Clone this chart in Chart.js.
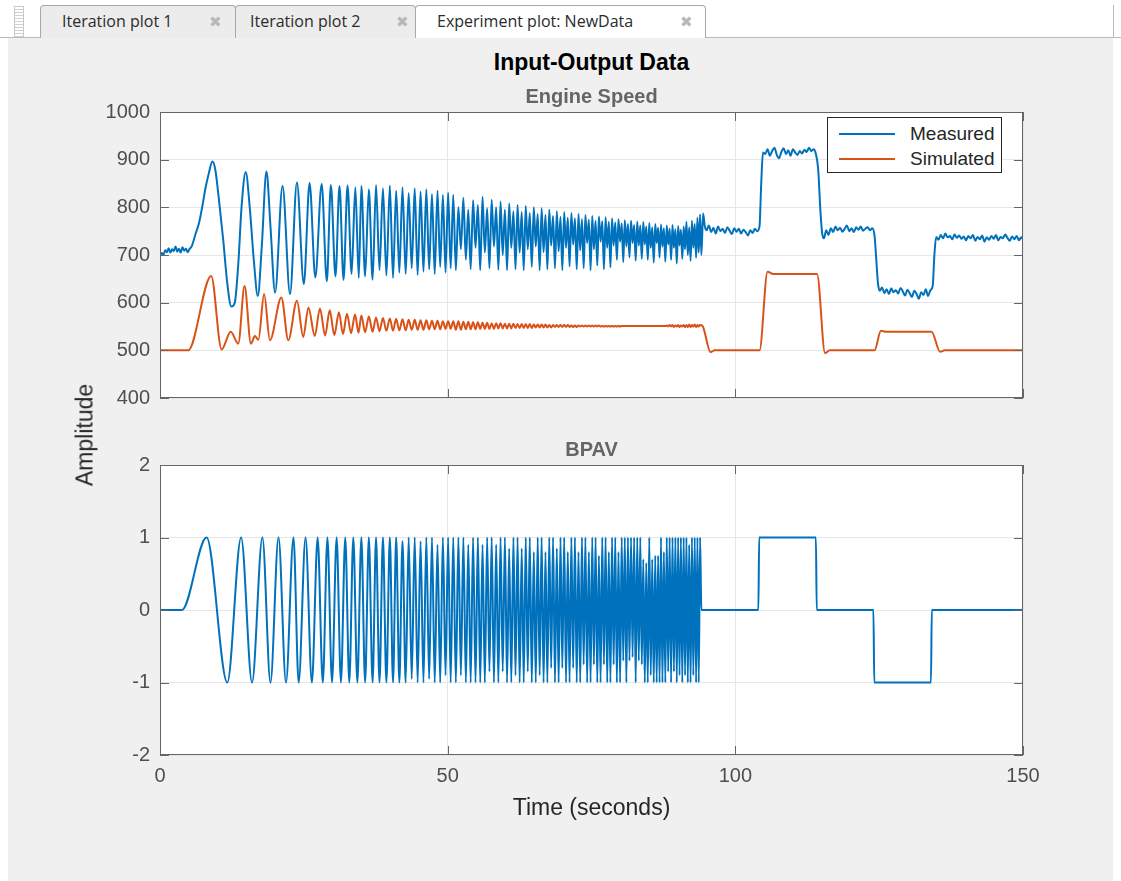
<!DOCTYPE html>
<html>
<head>
<meta charset="utf-8">
<title>Input-Output Data</title>
<script src="https://cdn.jsdelivr.net/npm/chart.js@4.4.1/dist/chart.umd.min.js"></script>
<style>
  html, body { margin: 0; padding: 0; background: #fff; }
  body { position: relative; width: 1121px; height: 881px; overflow: hidden; font-family: "Liberation Sans", Arial, sans-serif; }
  #tabbar { position: absolute; left: 0; top: 0; width: 1121px; height: 38px; background: #fff; border-bottom: 1px solid #b9b9b9; box-sizing: border-box; }
  .grip { position: absolute; left: 14px; top: 6px; width: 10px; height: 31px; border: 1px solid #c8c8c8; border-bottom: none; box-sizing: border-box; background: repeating-linear-gradient(#fff 0 2px, #d0d0d0 2px 3px); }
  .tab { position: absolute; top: 5px; height: 33px; box-sizing: border-box; border: 1px solid #a9a9a9; border-bottom: none; border-radius: 4px 4px 0 0; background: #ececec; font-family: "Open Sans", "DejaVu Sans", sans-serif; font-size: 16px; color: #2b2b2b; line-height: 30px; padding-left: 21px; white-space: nowrap; }
  .tab.active { background: #fff; height: 34px; }
  .tab .close { position: absolute; top: 0; font-size: 15px; color: #b8b8b8; }
  #tabend { position: absolute; left: 1113px; top: 5px; width: 1px; height: 33px; background: #b9b9b9; }
  #panel { position: absolute; left: 8px; top: 38px; width: 1105px; height: 843px; background: #f0f0f0; }
  canvas { position: absolute; left: 0; }
  .ttl { position: absolute; left: 160px; width: 863px; text-align: center; font-weight: bold; white-space: nowrap; }
  #figTitle { top: 48px; font-size: 23px; line-height: 28px; color: #000; }
  #speedTitle { top: 84px; font-size: 20px; line-height: 24px; color: #656565; }
  #bpavTitle { top: 437px; font-size: 20px; line-height: 24px; color: #656565; }
  #ylabel { position: absolute; left: 85px; top: 435px; transform: translate(-50%, -50%) rotate(-90deg); font-size: 23px; color: #262626; white-space: nowrap; }
  #legend { position: absolute; left: 827px; top: 117px; width: 175px; height: 56px; box-sizing: border-box; border: 1px solid #262626; background: #fff; }
  #legend .item { position: absolute; left: 0; width: 100%; height: 25px; font-size: 19px; line-height: 25px; color: #262626; }
  #legend .swatch { position: absolute; left: 11px; top: 12px; width: 56px; border-top: 2px solid; }
  #legend .lbl { position: absolute; left: 82px; }
</style>
</head>
<body>
<div id="tabbar">
  <div class="grip"></div>
  <div class="tab" style="left:40px;width:196px">Iteration plot 1<span class="close" style="left:168px">&#10006;</span></div>
  <div class="tab" style="left:235px;width:181px;padding-left:14px">Iteration plot 2<span class="close" style="left:160px">&#10006;</span></div>
  <div class="tab active" style="left:415px;width:291px">Experiment plot: NewData<span class="close" style="left:264px">&#10006;</span></div>
  <div id="tabend"></div>
</div>
<div id="panel"></div>
<canvas id="speedChart" width="1121" height="340" style="top:80px"></canvas>
<canvas id="bpavChart" width="1121" height="400" style="top:440px"></canvas>
<div class="ttl" id="figTitle">Input-Output Data</div>
<div class="ttl" id="speedTitle">Engine Speed</div>
<div class="ttl" id="bpavTitle">BPAV</div>
<div id="ylabel">Amplitude</div>
<div id="legend"></div>
<script>
// axis ticks
var timeTicks = [0, 50, 100, 150];
var speedTicks = [400, 500, 600, 700, 800, 900, 1000];
var bpavTicks = [-2, -1, 0, 1, 2];

// BPAV input: slow start of the sweep (s, value)
var bpavEarlyT = [0, 3.8, 8.1, 11.7, 14.1, 16.0, 17.8, 19.2, 20.6, 21.9, 23.2, 24.1, 25.3, 26.4,
  27.4, 28.3, 29.1, 29.9, 30.7, 31.45, 32.2, 32.9, 33.6, 34.3];
var bpavEarlyY = [0, 0, 1, -1, 1, -1, 1, -1, 1, -1, 1, -1, 1, -1,
  1, -1, 1, -1, 1, -1, 1, -1, 1, -1];

// peak / trough times of the fast part of the sweep (shared by the three traces)
var sweepT = [
  35.0, 35.65, 36.3, 36.95, 37.55, 38.15, 38.75, 39.35, 39.95, 40.5,
  41.05, 41.6, 42.15, 42.7, 43.22, 43.75, 44.27, 44.78, 45.29, 45.79,
  46.29, 46.78, 47.27, 47.75, 48.23, 48.7, 49.17, 49.63, 50.08, 50.52,
  50.97, 51.42, 51.86, 52.30, 52.73, 53.16, 53.58, 54.00, 54.42, 54.84,
  55.25, 55.66, 56.06, 56.46, 56.86, 57.26, 57.65, 58.04, 58.43, 58.81,
  59.19, 59.57, 59.95, 60.32, 60.69, 61.06, 61.43, 61.79, 62.15, 62.51,
  62.87, 63.22, 63.57, 63.92, 64.27, 64.62, 64.97, 65.31, 65.65, 65.99,
  66.33, 66.67, 67.00, 67.33, 67.66, 67.99, 68.32, 68.65, 68.97, 69.29,
  69.61, 69.93, 70.25, 70.57, 70.88, 71.19, 71.50, 71.81, 72.12, 72.43,
  72.74, 73.04, 73.34, 73.64, 73.94, 74.24, 74.54, 74.84, 75.13, 75.42,
  75.71, 76.00, 76.29, 76.58, 76.87, 77.16, 77.45, 77.73, 78.01, 78.29,
  78.57, 78.85, 79.13, 79.41, 79.69, 79.97, 80.25, 80.52, 80.79, 81.06,
  81.33, 81.60, 81.87, 82.14, 82.41, 82.68, 82.95, 83.22, 83.48, 83.74,
  84.00, 84.26, 84.52, 84.78, 85.04, 85.30, 85.56, 85.82, 86.08, 86.33,
  86.58, 86.83, 87.08, 87.33, 87.58, 87.83, 88.08, 88.33, 88.58, 88.83,
  89.08, 89.33, 89.58, 89.82, 90.06, 90.30, 90.54, 90.78, 91.02, 91.26,
  91.50, 91.74, 91.98, 92.22, 92.46, 92.70, 92.94, 93.18, 93.41, 93.64,
  93.87
];

var bpavSweep = [
  1, -1, 1, -1, 1, -1, 1, -1, 1, -1,
  1, -1, 0.95, -1, 1, -0.95, 1, -1, 0.95, -1,
  1, -0.95, 1, -1, 0.9, -1, 1, -0.9, 1, -1,
  1, -1, 1, -0.9, 1, -1, 0.9, -1, 1, -1,
  1, -1, 0.9, -1, 1, -0.85, 1, -1, 0.9, -1,
  1, -0.85, 1, -1, 0.85, -1, 1, -0.9, 1, -1,
  0.85, -1, 1, -0.85, 1, -1, 0.8, -1, 1, -0.9,
  1, -1, 0.8, -1, 1, -0.8, 1, -1, 0.85, -1,
  1, -0.8, 1, -1, 0.8, -1, 1, -0.8, 1, -1,
  0.8, -1, 1, -0.75, 1, -1, 0.8, -1, 1, -0.75,
  1, -1, 0.75, -1, 1, -0.75, 1, -1, 0.8, -1,
  1, -0.75, 1, -1, 0.8, -1, 1, -0.7, 1, -1,
  1, -0.7, 1, -0.65, 1, -1, 1, -0.7, 1, -0.75,
  0.7, -1, 0.65, -1, 1, -0.9, 0.7, -1, 0.75, -1,
  0.75, -1, 1, -1, 0.8, -1, 1, -0.85, 1, -1,
  1, -0.85, 1, -1, 1, -0.9, 1, -1, 1, -0.9,
  1, -1, 0.9, -1, 1, -0.9, 1, -1, 1, -1,
  1
];

// BPAV steps after the sweep
var bpavTailT = [94.1, 104.0, 104.15, 114.0, 114.15, 124.0, 124.15, 134.0, 134.15, 150];
var bpavTailY = [0, 0, 1, 1, 0, 0, -1, -1, 0, 0];

// engine speed, measured
var measEarlyT = [0, 0.3, 0.6, 0.9, 1.2, 1.5, 1.8, 2.1, 2.4, 2.7, 3.0, 3.3, 3.6, 3.9, 4.2, 4.5, 4.8, 5.1, 5.5,
  6.2, 6.8, 7.4, 7.9, 8.5, 9.1, 9.6, 10.3, 11.0, 11.7, 12.4, 13.0, 13.6, 14.2, 14.9, 15.6, 16.3, 17.0,
  17.7, 18.5, 19.2, 20.0, 21.3, 22.6, 23.8, 25.0, 26.0, 27.0, 28.1, 29.0, 29.7, 30.5, 31.2, 31.9,
  32.6, 33.3, 33.95, 34.55];
var measEarlyY = [698, 704, 700, 710, 706, 714, 705, 712, 708, 718, 707, 713, 705, 716, 709, 713, 706, 712, 718,
  745, 768, 805, 840, 872, 896, 880, 810, 730, 640, 592, 600, 680, 805, 874, 800, 690, 614,
  720, 875, 760, 621, 845, 618, 852, 639, 851, 653, 849, 645, 847, 655, 845, 648,
  846, 660, 842, 652];

var measSweep = [
  845, 655, 838, 648, 847, 668, 840, 657, 846, 652,
  835, 663, 842, 660, 830, 672, 840, 658, 833, 665,
  838, 670, 828, 660, 835, 675, 826, 663, 831, 672,
  826, 668, 800, 712, 820, 690, 795, 670, 815, 715,
  805, 668, 822, 705, 798, 672, 816, 718, 800, 669,
  812, 700, 795, 668, 808, 715, 792, 670, 805, 705,
  790, 668, 803, 712, 788, 675, 800, 718, 786, 668,
  798, 706, 784, 670, 795, 720, 782, 672, 792, 708,
  780, 668, 790, 715, 778, 676, 788, 722, 777, 670,
  786, 710, 775, 672, 784, 725, 774, 668, 782, 712,
  772, 678, 781, 728, 771, 670, 779, 715, 770, 674,
  777, 720, 768, 690, 775, 728, 766, 685, 773, 718,
  765, 695, 772, 725, 763, 688, 770, 720, 762, 692,
  769, 722, 760, 690, 767, 715, 758, 684, 765, 725,
  757, 695, 764, 718, 756, 686, 762, 722, 755, 690,
  763, 715, 754, 682, 761, 720, 753, 692, 760, 712,
  770, 700, 758, 688, 772, 715, 765, 694, 778, 705,
  785
];

var measTailT = [94.1, 94.4, 94.7, 95.0, 95.4, 95.8, 96.2, 96.6, 97.0, 97.4, 97.8, 98.2, 98.6, 99.0, 99.4, 99.8,
  100.2, 100.6, 101.0, 101.4, 101.8, 102.2, 102.6, 103.0, 103.4, 103.8, 104.2, 104.5, 104.8, 105.2, 105.6,
  106.0, 106.4, 106.8, 107.2, 107.6, 108.0, 108.4, 108.8, 109.2, 109.6, 110.0, 110.4, 110.8, 111.2, 111.6,
  112.0, 112.4, 112.8, 113.2, 113.6, 114.0, 114.4, 114.8, 115.1, 115.4, 115.8, 116.2, 116.6, 117.0, 117.4,
  117.8, 118.2, 118.6, 119.0, 119.4, 119.8, 120.2, 120.6, 121.0, 121.4, 121.8, 122.2, 122.6, 123.0, 123.4,
  123.8, 124.2, 124.5, 124.8, 125.1, 125.5, 125.9, 126.3, 126.7, 127.1, 127.5, 127.9, 128.3, 128.7, 129.1,
  129.5, 129.9, 130.3, 130.7, 131.1, 131.5, 131.9, 132.3, 132.7, 133.1, 133.5, 133.9, 134.3, 134.6, 134.9,
  135.3, 135.7, 136.1, 136.5, 136.9, 137.3, 137.7, 138.1, 138.5, 138.9, 139.3, 139.7, 140.1, 140.5, 140.9,
  141.3, 141.7, 142.1, 142.5, 142.9, 143.3, 143.7, 144.1, 144.5, 144.9, 145.3, 145.7, 146.1, 146.5, 146.9,
  147.3, 147.7, 148.1, 148.5, 148.9, 149.3, 149.7, 150];
var measTailY = [700, 787, 760, 752, 762, 748, 757, 745, 760, 750, 755, 746, 758, 751, 744, 756,
  749, 755, 745, 753, 748, 741, 752, 746, 755, 750, 760, 850, 915, 912, 922,
  908, 918, 925, 910, 903, 916, 924, 912, 920, 908, 922, 915, 910, 918, 913,
  921, 916, 925, 918, 922, 912, 880, 790, 745, 735, 752, 742, 756, 748, 760,
  752, 757, 749, 755, 762, 750, 756, 748, 758, 753, 760, 751, 755, 758, 752,
  756, 740, 690, 640, 625, 632, 620, 628, 618, 630, 622, 626, 619, 631, 624,
  615, 627, 620, 612, 625, 618, 608, 622, 616, 628, 614, 626, 635, 700, 738,
  732, 742, 735, 745, 737, 740, 733, 743, 736, 741, 734, 739, 731, 740, 735,
  742, 730, 738, 733, 741, 728, 737, 732, 740, 734, 742, 731, 738, 735, 743,
  736, 730, 739, 733, 740, 731, 737, 733];

// engine speed, simulated
var simEarlyT = [0, 4.9, 8.9, 10.7, 12.3, 13.6, 14.7, 15.8, 16.5, 17.1, 18.1, 19.1, 21.1, 22.3, 23.8, 24.9,
  25.8, 26.9, 27.8, 28.7, 29.5, 30.3, 31.1, 31.8, 32.5, 33.2, 33.9, 34.5];
var simEarlyY = [500, 500, 656, 502, 539, 514, 635, 514, 530, 522, 618, 521, 611, 521, 604, 528,
  590, 530, 588, 531, 584, 532, 580, 534, 577, 536, 575, 537];

var simSweep = [
  573, 538, 571, 539, 569, 540, 568, 541, 567, 541,
  566, 542, 565, 542, 564, 543, 564, 543, 563, 543,
  563, 544, 562, 544, 562, 544, 561, 545, 561, 545,
  561, 543, 561, 543, 560, 544, 560, 544, 559, 544,
  559, 545, 558, 545, 558, 545, 557, 545, 557, 546,
  557, 546, 556, 546, 556, 546, 556, 547, 555, 547,
  555, 547, 555, 547, 555, 547, 554, 548, 554, 548,
  554, 548, 554, 548, 553, 548, 553, 549, 553, 549,
  553, 549, 553, 549, 553, 549, 552, 549, 552, 549,
  552, 550, 552, 550, 552, 550, 552, 550, 552, 550,
  552, 550, 552, 550, 551, 550, 551, 550, 551, 550,
  551, 550, 551, 550, 551, 550, 551, 551, 551, 551,
  551, 551, 551, 551, 551, 551, 551, 551, 551, 551,
  551, 551, 551, 551, 551, 551, 551, 551, 551, 551,
  551, 551, 551, 551, 551, 551, 552, 550, 553, 550,
  553, 549, 552, 550, 553, 549, 552, 550, 553, 549,
  553, 549, 554, 549, 553, 550, 554, 549, 553, 550,
  553
];

var simTailT = [94.3, 95.7, 96.4, 104.2, 105.6, 106.6, 114.2, 115.6, 116.4, 124.2, 125.3, 126.2, 134.1, 135.6, 136.4, 150];
var simTailY = [551, 496, 500, 500, 665, 660, 660, 494, 500, 500, 541, 539, 539, 497, 500, 500];


function pts(ts, vs) {
  return ts.map(function (t, i) { return { x: t, y: vs[i] }; });
}

var blue = '#0072BD';
var orange = '#D95319';
var tickFont = { family: '"Liberation Sans", Arial, sans-serif', size: 20 };

// white plot box, frame and inward tick marks like the original figure
var framePlugin = {
  id: 'frame',
  beforeDraw: function (chart) {
    var a = chart.chartArea, ctx = chart.ctx;
    ctx.save();
    ctx.fillStyle = '#fff';
    ctx.fillRect(a.left, a.top, a.right - a.left, a.bottom - a.top);
    ctx.restore();
  },
  afterDatasetsDraw: function (chart) {
    var a = chart.chartArea, ctx = chart.ctx;
    var xs = chart.scales.x, ys = chart.scales.y;
    ctx.save();
    ctx.strokeStyle = '#666';
    ctx.lineWidth = 1;
    ctx.strokeRect(a.left + 0.5, a.top + 0.5, a.right - a.left - 1, a.bottom - a.top - 1);
    ctx.beginPath();
    xs.ticks.forEach(function (t) {
      var px = Math.round(xs.getPixelForValue(t.value)) + 0.5;
      ctx.moveTo(px, a.bottom); ctx.lineTo(px, a.bottom - 9);
      ctx.moveTo(px, a.top); ctx.lineTo(px, a.top + 9);
    });
    ys.ticks.forEach(function (t) {
      var py = Math.round(ys.getPixelForValue(t.value)) + 0.5;
      ctx.moveTo(a.left, py); ctx.lineTo(a.left + 9, py);
      ctx.moveTo(a.right, py); ctx.lineTo(a.right - 9, py);
    });
    ctx.stroke();
    ctx.restore();
  }
};

function lineSet(label, data, color) {
  return {
    label: label,
    data: data,
    borderColor: color,
    backgroundColor: color,
    borderWidth: 2,
    pointRadius: 0,
    fill: false,
    cubicInterpolationMode: 'monotone'
  };
}

function plainLabel(v) { return String(v); }

function timeScale(showLabels, fitHeight) {
  return {
    type: 'linear',
    min: timeTicks[0],
    max: timeTicks[timeTicks.length - 1],
    afterBuildTicks: function (s) { s.ticks = timeTicks.map(function (v) { return { value: v }; }); },
    afterFit: function (s) { s.height = fitHeight; },
    grid: { color: '#e6e6e6', drawTicks: false },
    border: { display: false },
    ticks: { display: showLabels, font: tickFont, color: '#4f4f4f', padding: 9, maxRotation: 0, callback: plainLabel },
    title: {
      display: showLabels,
      text: 'Time (seconds)',
      font: { family: '"Liberation Sans", Arial, sans-serif', size: 23 },
      color: '#262626',
      padding: { top: 0, bottom: 8 }
    }
  };
}

function valueScale(list) {
  return {
    type: 'linear',
    min: list[0],
    max: list[list.length - 1],
    afterBuildTicks: function (s) { s.ticks = list.map(function (v) { return { value: v }; }); },
    afterFit: function (s) { s.width = 100; },
    grid: { color: '#e6e6e6', drawTicks: false },
    border: { display: false },
    ticks: { font: tickFont, color: '#4f4f4f', padding: 10, callback: plainLabel }
  };
}

var baseOptions = {
  responsive: false,
  animation: false,
  plugins: { legend: { display: false }, tooltip: { enabled: false } }
};

var speedChart = new Chart(document.getElementById('speedChart').getContext('2d'), {
  type: 'line',
  data: {
    datasets: [
      lineSet('Measured', pts(measEarlyT, measEarlyY).concat(pts(sweepT, measSweep), pts(measTailT, measTailY)), blue),
      lineSet('Simulated', pts(simEarlyT, simEarlyY).concat(pts(sweepT, simSweep), pts(simTailT, simTailY)), orange)
    ]
  },
  options: Object.assign({}, baseOptions, {
    layout: { padding: { left: 60, right: 98, top: 32, bottom: 18 } },
    scales: { x: timeScale(false, 0), y: valueScale(speedTicks) }
  }),
  plugins: [framePlugin]
});

var bpavChart = new Chart(document.getElementById('bpavChart').getContext('2d'), {
  type: 'line',
  data: {
    datasets: [
      lineSet('BPAV', pts(bpavEarlyT, bpavEarlyY).concat(pts(sweepT, bpavSweep), pts(bpavTailT, bpavTailY)), blue)
    ]
  },
  options: Object.assign({}, baseOptions, {
    layout: { padding: { left: 60, right: 98, top: 25, bottom: 10 } },
    scales: { x: timeScale(true, 75), y: valueScale(bpavTicks) }
  }),
  plugins: [framePlugin]
});

// legend box inside the upper axes, built from the chart's datasets
var legendBox = document.getElementById('legend');
speedChart.data.datasets.forEach(function (ds, i) {
  var row = document.createElement('div');
  row.className = 'item';
  row.style.top = (3 + i * 25) + 'px';
  row.innerHTML = '<span class="swatch" style="border-color:' + ds.borderColor + '"></span><span class="lbl">' + ds.label + '</span>';
  legendBox.appendChild(row);
});
</script>
</body>
</html>
